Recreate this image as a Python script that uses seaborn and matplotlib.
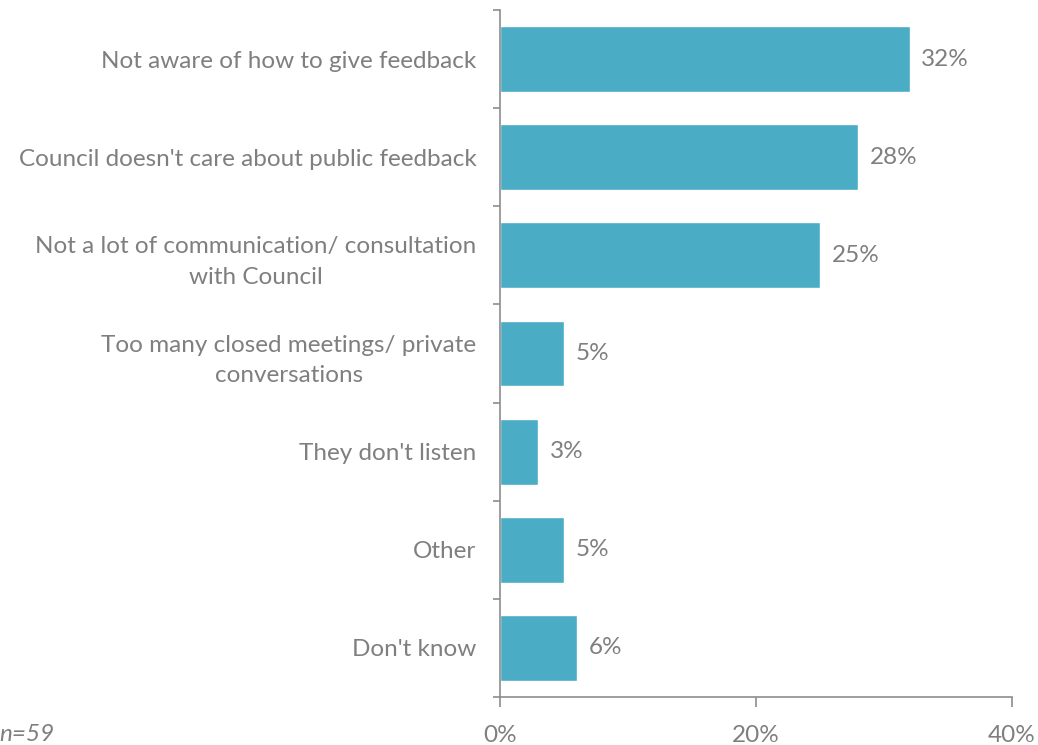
import matplotlib
matplotlib.use("Agg")
import matplotlib.pyplot as plt
import seaborn as sns
import pandas as pd

categories = [
    "Not aware of how to give feedback",
    "Council doesn't care about public feedback",
    "Not a lot of communication/ consultation\nwith Council",
    "Too many closed meetings/ private\nconversations",
    "They don't listen",
    "Other",
    "Don't know",
]
values = [32, 28, 25, 5, 3, 5, 6]
x_ticks = [0, 20, 40]
x_tick_labels = ["0%", "20%", "40%"]
note = "n=59"

bar_color = "#4BACC6"
text_color = "#7F7F7F"
axis_color = "#8C8C8C"
fs = 17.5

sns.set_theme(style="white")
plt.rcParams["font.family"] = ["Lato", "DejaVu Sans"]

df = pd.DataFrame({"reason": categories, "pct": values})

fig = plt.figure(figsize=(10.38, 7.45), dpi=100)
ax = fig.add_axes([500 / 1038, 48 / 745, 512 / 1038, 687 / 745])

sns.barplot(data=df, y="reason", x="pct", orient="h", color=bar_color,
            width=0.67, saturation=1, ax=ax)

ax.set_xlim(0, 40)
ax.set_ylim(len(categories) - 0.5, -0.5)
ax.set_xlabel("")
ax.set_ylabel("")

# Percent labels at the end of each bar
for i, v in enumerate(values):
    ax.text(v + 0.9, i, f"{v}%", va="center", ha="left",
            fontsize=fs, color=text_color)

# Category labels left of the axis
ax.set_yticks(range(len(categories)))
ax.set_yticklabels(categories, fontsize=fs, color=text_color,
                   multialignment="center", linespacing=1.55)
ax.tick_params(axis="y", length=0, pad=17)

# Tick marks at band boundaries
for b in [i - 0.5 for i in range(len(categories) + 1)]:
    ax.plot([-0.55, 0], [b, b], color=axis_color, lw=1.2,
            clip_on=False, solid_capstyle="butt")

ax.set_xticks(x_ticks)
ax.set_xticklabels(x_tick_labels, fontsize=fs, color=text_color)
ax.tick_params(axis="x", direction="out", length=7, width=1.2,
               color=axis_color, pad=13, bottom=True)

for side in ["top", "right"]:
    ax.spines[side].set_visible(False)
for side in ["left", "bottom"]:
    ax.spines[side].set_color(axis_color)
    ax.spines[side].set_linewidth(1.2)

fig.text(-1 / 1038, 4 / 745, note, fontsize=fs, style="italic",
         color=text_color, ha="left", va="baseline")

fig.savefig("out.png", dpi=100, facecolor="white")
